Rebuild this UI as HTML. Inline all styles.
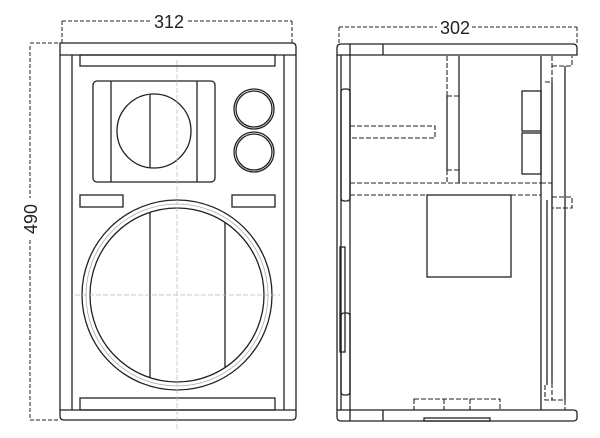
<!DOCTYPE html>
<html><head><meta charset="utf-8"><style>
html,body{margin:0;padding:0;background:#fff;width:600px;height:438px;overflow:hidden}
svg{display:block}
text{font-family:"Liberation Sans",sans-serif;font-size:18px;fill:#222}
</style></head><body>
<svg width="600" height="438" viewBox="0 0 600 438" xmlns="http://www.w3.org/2000/svg">
<g fill="none" stroke="#222" stroke-width="1.3">
<!-- dims front -->
<g stroke-dasharray="4,2" stroke-width="1">
<line x1="62" y1="21" x2="150" y2="21"/><line x1="188" y1="21" x2="292" y2="21"/>
<line x1="62" y1="21" x2="62" y2="43"/><line x1="292" y1="21" x2="292" y2="43"/>
<line x1="30" y1="43" x2="60" y2="43"/><line x1="30" y1="46" x2="30" y2="198"/><line x1="30" y1="240" x2="30" y2="420"/><line x1="30" y1="420" x2="60" y2="420"/>
<line x1="339" y1="27" x2="437" y2="27"/><line x1="472" y1="27" x2="577" y2="27"/>
<line x1="339" y1="27" x2="339" y2="44"/><line x1="577" y1="27" x2="577" y2="44"/>
</g>
<!-- front view -->
<path d="M60,43 H292 Q296,43 296,47 V55 H60 Z"/>
<path d="M60,410 H296 V416 Q296,420 292,420 H64 Q60,420 60,416 Z"/>
<line x1="60" y1="55" x2="60" y2="410"/><line x1="72" y1="55" x2="72" y2="410"/>
<line x1="284" y1="55" x2="284" y2="410"/><line x1="296" y1="55" x2="296" y2="410"/>
<rect x="80" y="55" width="195" height="11"/>
<rect x="80" y="398" width="195" height="12"/>
<rect x="93" y="81" width="122" height="101" rx="4"/>
<line x1="111" y1="81" x2="111" y2="182"/><line x1="197" y1="81" x2="197" y2="182"/>
<circle cx="154" cy="131" r="37"/><line x1="150" y1="95" x2="150" y2="168"/>
<circle cx="254" cy="109" r="20"/><circle cx="254" cy="109" r="18"/>
<circle cx="254" cy="152" r="20"/><circle cx="254" cy="152" r="18"/>
<rect x="80" y="195" width="43" height="12"/><rect x="232" y="195" width="43" height="12"/>
<circle cx="177" cy="295" r="95"/><circle cx="177" cy="295" r="87"/>
<circle cx="177" cy="295" r="91" stroke="#aaa" stroke-width="0.8"/>
<line x1="150" y1="213" x2="150" y2="377"/><line x1="225" y1="222" x2="225" y2="367"/>
<g stroke="#bbb" stroke-width="0.7" stroke-dasharray="5,2"><line x1="177" y1="60" x2="177" y2="430"/><line x1="75" y1="295" x2="280" y2="295"/></g>
<!-- side view -->
<path d="M341,44 H573 Q577,44 577,48 V55 H337 V48 Q337,44 341,44 Z"/>
<line x1="350" y1="44" x2="350" y2="55"/><line x1="383" y1="44" x2="383" y2="55"/>
<path d="M337,410 H573 Q577,410 577,413 V418 Q577,421 573,421 H341 Q337,421 337,417 Z"/>
<line x1="350" y1="410" x2="350" y2="421"/><line x1="383" y1="410" x2="383" y2="421"/>
<rect x="424" y="418" width="66" height="3"/>
<line x1="337" y1="55" x2="337" y2="410"/><line x1="341" y1="55" x2="341" y2="410"/><line x1="350" y1="55" x2="350" y2="410"/>
<rect x="341" y="89" width="9" height="112" rx="3"/>
<rect x="341" y="313" width="9" height="82" rx="3"/>
<rect x="340" y="247" width="5" height="105"/>
<line x1="541" y1="56" x2="541" y2="410"/><line x1="552" y1="82" x2="552" y2="383"/><line x1="565" y1="66" x2="565" y2="400"/>
<line x1="547" y1="200" x2="547" y2="385"/>
<rect x="522" y="91" width="19" height="40"/><rect x="522" y="133" width="19" height="41"/>
<rect x="427" y="195" width="84" height="82"/>
<line x1="447" y1="96" x2="447" y2="170"/><line x1="459" y1="56" x2="459" y2="183"/>
<g stroke-dasharray="5,2" stroke-width="1.1">
<line x1="447" y1="56" x2="447" y2="96"/><line x1="447" y1="170" x2="447" y2="183"/>
<line x1="447" y1="96" x2="459" y2="96"/><line x1="447" y1="170" x2="459" y2="170"/>
<line x1="350" y1="183" x2="541" y2="183"/><line x1="350" y1="195" x2="541" y2="195"/>
<rect x="350" y="126" width="85" height="12"/>
<path d="M552,56 V82 H545 M552,66 H572 V56"/>
<rect x="552" y="197" width="20" height="11"/>
<path d="M541,183 H552 V200 M545,385 V400 H565 V410 M552,383 V400"/>
<rect x="414" y="399" width="86" height="11"/><line x1="444" y1="399" x2="444" y2="410"/><line x1="470" y1="399" x2="470" y2="410"/>
</g>
</g>
<rect x="150" y="10" width="38" height="22" fill="#fff"/>
<text x="169" y="28" text-anchor="middle">312</text>
<rect x="437" y="16" width="35" height="22" fill="#fff"/>
<text x="455" y="34" text-anchor="middle">302</text>
<text x="0" y="0" text-anchor="middle" transform="translate(37,219) rotate(-90)">490</text>
</svg>
</body></html>
